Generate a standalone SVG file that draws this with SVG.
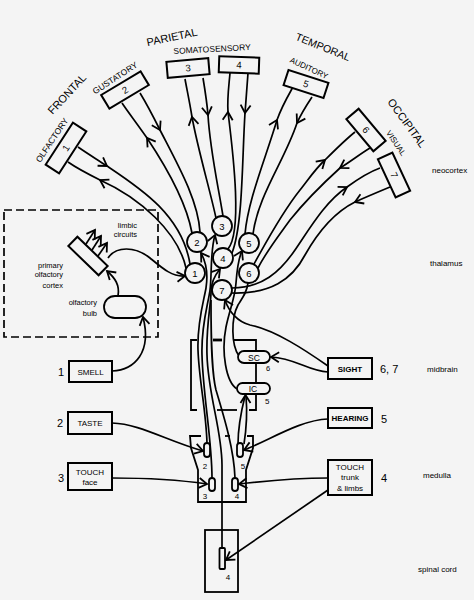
<svg xmlns="http://www.w3.org/2000/svg" width="474" height="600" viewBox="0 0 474 600">
<defs>
<marker id="ar" markerUnits="userSpaceOnUse" markerWidth="18" markerHeight="18" viewBox="-9 -9 18 18" refX="0" refY="0" orient="auto" overflow="visible">
<path d="M-8,-5 L0,0 L-8,5" fill="none" stroke="#000" stroke-width="1.8"/>
</marker>
</defs>
<style>
.l{fill:none;stroke:#000;stroke-width:1.7}
.a{fill:none;stroke:none;marker-end:url(#ar)}
.bx{fill:#f4f4f4;stroke:#000;stroke-width:2}
.nd{fill:#f4f4f4;stroke:#000;stroke-width:1.8}
.o{fill:none;stroke:#000;stroke-width:1.8}
.t{font-family:"Liberation Sans",Arial,sans-serif;fill:#000}
.s8{font-size:8px}
.c{text-anchor:middle}
.e{text-anchor:end}
</style>
<rect width="474" height="600" fill="#f4f4f4"/>

<!-- region labels -->
<g class="t c">
<text transform="translate(67,94) rotate(-47)" font-size="11" dy="0.35em">FRONTAL</text>
<text transform="translate(172,37) rotate(-12)" font-size="11" dy="0.35em">PARIETAL</text>
<text transform="translate(323,47) rotate(22)" font-size="10.5" dy="0.35em">TEMPORAL</text>
<text transform="translate(407,123) rotate(54)" font-size="11" dy="0.35em">OCCIPITAL</text>
<text transform="translate(52,140) rotate(-56)" font-size="8.5" dy="0.35em">OLFACTORY</text>
<text transform="translate(115,78) rotate(-33)" font-size="8.5" dy="0.35em">GUSTATORY</text>
<text transform="translate(212,49) rotate(-3)" font-size="8.5" dy="0.35em">SOMATOSENSORY</text>
<text transform="translate(309,68) rotate(25)" font-size="8" dy="0.35em">AUDITORY</text>
<text transform="translate(396,143) rotate(56)" font-size="8" dy="0.35em">VISUAL</text>
</g>

<!-- level labels -->
<g class="t s8">
<text x="432" y="173">neocortex</text>
<text x="430" y="266">thalamus</text>
<text x="427" y="372">midbrain</text>
<text x="423" y="478">medulla</text>
<text x="418" y="572">spinal cord</text>
</g>

<!-- olfactory dashed region -->
<g id="olfactory-region">
<rect x="4" y="210" width="154" height="127" fill="none" stroke="#000" stroke-width="1.7" stroke-dasharray="8,4"/>
<g class="t e" font-size="7.5">
<text x="137" y="228">limbic</text>
<text x="137" y="237">circuits</text>
<text x="63" y="268">primary</text>
<text x="63" y="277">olfactory</text>
<text x="63" y="288">cortex</text>
<text x="97" y="305">olfactory</text>
<text x="97" y="316">bulb</text>
</g>
</g>

<g id="connectors">
<!-- cortex <-> thalamus pairs -->
<path class="l" d="M78,147 C88,154 98,160 107,166 C140,188 182,215 190,264"/>
<path class="a" d="M102,162.7 L107,166"/>
<path class="l" d="M68,162 C78,169 90,175 100,180 C140,198 178,232 186,268"/>
<path class="a" d="M105,182.8 L100,180"/>

<path class="l" d="M192,233 C186,200 165,165 147,138 C138,125 128,112 122,103"/>
<path class="a" d="M150,142.2 L147,138"/>
<path class="l" d="M140,93 C148,106 154,118 160,130 C178,165 198,200 200,232"/>
<path class="a" d="M157.3,125 L160,130"/>

<path class="l" d="M216,218 C210,190 198,150 192,117 C190,104 187,90 185,79"/>
<path class="a" d="M193,122 L192,117"/>
<path class="l" d="M203,78 C205,90 207,103 208,115 C210,150 218,185 223,216"/>
<path class="a" d="M207.3,110 L208,115"/>

<path class="l" d="M228,249 C242,232 234,160 228,112 C227,98 229,85 230,73"/>
<path class="a" d="M227.8,117 L228,112"/>
<path class="l" d="M248,73 C247,88 246,100 245,113 C242,160 243,225 232,253"/>
<path class="a" d="M245.4,108 L245,113"/>

<path class="l" d="M245,234 C248,200 265,160 277,120 C282,106 288,96 293,87"/>
<path class="a" d="M274.8,124.5 L277,120"/>
<path class="l" d="M312,97 C306,106 301,114 297,123 C285,160 258,195 253,234"/>
<path class="a" d="M299.5,118.7 L297,123"/>

<path class="l" d="M254,264 C262,250 280,215 300,190 C308,180 316,168 325,160 C335,150 345,140 355,132"/>
<path class="a" d="M320.5,164 L325,160"/>
<path class="l" d="M370,148 C360,154 350,162 340,168 C318,188 302,205 290,220 C277,238 266,252 258,268"/>
<path class="a" d="M345,165 L340,168"/>

<path class="l" d="M232,288 C262,288 280,272 295,250 C310,228 325,202 347,187 C358,179 369,172 380,168"/>
<path class="a" d="M342,190 L347,187"/>
<path class="l" d="M390,187 C378,192 366,197 355,202 C335,212 318,232 305,255 C292,280 270,294 232,293"/>
<path class="a" d="M360,199.9 L355,202"/>

<!-- olfactory -->
<path class="l" d="M112,371 C135,370 152,352 143,317"/>
<path class="a" d="M144,322 L143,317"/>
<path class="l" d="M118,296 C120,285 115,278 107,271"/>
<path class="a" d="M111,274.5 L107,271"/>
<path class="l" d="M108,258 C116,246 135,246 150,258 C162,268 172,277 185,276"/>
<path class="a" d="M180,276.5 L185,276"/>
<path class="l" d="M86,244 L95,230"/>
<path class="a" d="M94,231.5 L95,230"/>
<path class="l" d="M92,250 L101,236"/>
<path class="a" d="M100,237.5 L101,236"/>
<path class="l" d="M98,256 L107,243"/>
<path class="a" d="M106,244.5 L107,243"/>

<!-- ascending brainstem tracts -->
<path class="l" d="M207,443 C206,410 199,380 198,350 C197,322 204,300 206,288 C208,275 206,262 201,253"/>
<path class="a" d="M203,256 L201,253"/>
<path class="l" d="M212,478 C212,440 203,395 202,355 C201,325 208,305 210,290 C212,275 210,252 215,235"/>
<path class="a" d="M214,238 L215,235"/>
<path class="l" d="M222,548 L222,465 C222,430 208,395 207,355 C206,325 211,305 211,292 C211,282 215,275 220,269"/>
<path class="a" d="M218,271.5 L220,269"/>
<path class="l" d="M235,478 C234,450 225,420 216,390 C211,370 211,330 211,300"/>
<path class="l" d="M237,389 C226,382 221,352 226,327 C230,308 235,298 236,283 C237,270 238,259 242,251"/>
<path class="a" d="M240.5,254 L242,251"/>
<path class="l" d="M239,356 C231,345 231,318 238,305 C243,297 247,292 248,283"/>
<path class="l" d="M238,444 C238,425 242,408 245,396"/>
<path class="l" d="M244,444 C247,425 247,408 246,396"/>
<path class="a" d="M245.5,400 L245.5,395"/>

<!-- sensory inputs -->
<path class="l" d="M328,366 C305,350 275,330 250,325 C238,322 229,312 225,300"/>
<path class="a" d="M227,304 L225,300"/>
<path class="l" d="M328,372 C308,371 295,358 271,357"/>
<path class="a" d="M276,357.2 L271,357"/>
<path class="l" d="M328,419 C300,420 270,440 244,450"/>
<path class="a" d="M249,448 L244,450"/>
<path class="l" d="M328,478 C300,478 265,481 239,484"/>
<path class="a" d="M244,483.5 L239,484"/>
<path class="l" d="M328,490 L226,560"/>
<path class="a" d="M230.1,557.2 L226,560"/>
<path class="l" d="M112,423 C140,424 165,440 203,451"/>
<path class="a" d="M198.2,449.6 L203,451"/>
<path class="l" d="M112,478 C150,478 180,480 207,484"/>
<path class="a" d="M202,483.3 L207,484"/>
</g>

<!-- brainstem outlines -->
<g id="midbrain">
<path class="o" d="M197,340 L191,340 L191,410 L197,410"/>
<path d="M213,340 L222,340" stroke="#000" stroke-width="2.8"/>
<path class="o" d="M234,340 L256,340 L256,351"/>
<path class="o" d="M256,363 L256,383"/>
<path class="o" d="M256,394 L256,410 L249,410"/>
<path class="o" d="M237,410 L217,410"/>
</g>
<g id="SC"><rect x="238" y="351" width="32" height="12" rx="6" class="nd"/><text class="t c" x="254" y="360.5" font-size="8.5">SC</text><text class="t" x="266" y="371" font-size="7.5">6</text></g>
<g id="IC"><rect x="237" y="383" width="33" height="11" rx="5.5" class="nd"/><text class="t c" x="253" y="391.5" font-size="8.5">IC</text><text class="t" x="265" y="404" font-size="8">5</text></g>

<g id="medulla">
<path class="o" d="M201,436 L190,436 L191,448 L198,470 L198,502 L246,502 L246,470 L253,448 L253,436 L247,436"/>
<path class="o" d="M225,436 L230,436"/>
</g>
<g id="med2"><rect x="204" y="443" width="6" height="14" rx="3" class="nd"/><text class="t c" x="205" y="469" font-size="8">2</text></g>
<g id="med5"><rect x="237" y="443" width="6" height="14" rx="3" class="nd"/><text class="t c" x="243" y="469" font-size="8">5</text></g>
<g id="med3"><rect x="209" y="478" width="6" height="13" rx="3" class="nd"/><text class="t c" x="205" y="499" font-size="8">3</text></g>
<g id="med4"><rect x="232" y="478" width="6" height="13" rx="3" class="nd"/><text class="t c" x="237" y="499" font-size="8">4</text></g>

<g id="spinal">
<rect x="205" y="530" width="33" height="62" class="o"/>
<rect x="219.5" y="548" width="5.5" height="21" rx="1" class="nd"/>
<text class="t c" x="228" y="580" font-size="8">4</text>
</g>

<!-- olfactory structures -->
<g id="olf-cortex" transform="translate(88,256) rotate(44)"><rect x="-21" y="-6.5" width="42" height="13" class="bx"/></g>
<g id="olf-bulb"><rect x="104" y="296" width="42" height="22" rx="11" class="nd"/></g>

<!-- cortex boxes -->
<g id="cortex1" transform="translate(66,148) rotate(-57)"><rect x="-25" y="-8" width="50" height="16" class="bx"/><text class="t c" dy="3.3" font-size="9.5">1</text></g>
<g id="cortex2" transform="translate(125,90) rotate(-31)"><rect x="-23" y="-8" width="46" height="16" class="bx"/><text class="t c" dy="3.3" font-size="9.5">2</text></g>
<g id="cortex3" transform="translate(188,68) rotate(-5)"><rect x="-21" y="-8" width="42" height="16" class="bx"/><text class="t c" dy="3.3" font-size="9.5">3</text></g>
<g id="cortex4" transform="translate(239,65) rotate(2)"><rect x="-20" y="-8" width="40" height="16" class="bx"/><text class="t c" dy="3.3" font-size="9.5">4</text></g>
<g id="cortex5" transform="translate(306,84) rotate(18)"><rect x="-21" y="-8" width="42" height="16" class="bx"/><text class="t c" dy="3.3" font-size="9.5">5</text></g>
<g id="cortex6" transform="translate(366,130) rotate(50)"><rect x="-21" y="-8" width="42" height="16" class="bx"/><text class="t c" dy="3.3" font-size="9.5">6</text></g>
<g id="cortex7" transform="translate(394,175) rotate(65)"><rect x="-21" y="-8" width="42" height="16" class="bx"/><text class="t c" dy="3.3" font-size="9.5">7</text></g>

<!-- thalamic nuclei -->
<g id="th1"><circle cx="195" cy="273" r="10" class="nd"/><text class="t c" x="195" y="276.5" font-size="9.5">1</text></g>
<g id="th2"><circle cx="197" cy="242" r="10" class="nd"/><text class="t c" x="197" y="245.5" font-size="9.5">2</text></g>
<g id="th3"><circle cx="222" cy="226" r="10" class="nd"/><text class="t c" x="222" y="229.5" font-size="9.5">3</text></g>
<g id="th4"><circle cx="223" cy="258" r="10" class="nd"/><text class="t c" x="223" y="261.5" font-size="9.5">4</text></g>
<g id="th5"><circle cx="249" cy="243" r="10" class="nd"/><text class="t c" x="249" y="246.5" font-size="9.5">5</text></g>
<g id="th6"><circle cx="249" cy="273" r="10" class="nd"/><text class="t c" x="249" y="276.5" font-size="9.5">6</text></g>
<g id="th7"><circle cx="222" cy="290" r="10" class="nd"/><text class="t c" x="222" y="293.5" font-size="9.5">7</text></g>

<!-- sensory boxes -->
<g id="smell"><rect x="69" y="361" width="43" height="21" class="bx"/><text class="t c s8" x="90.5" y="375">SMELL</text><text class="t e" x="64" y="376" font-size="11">1</text></g>
<g id="taste"><rect x="68" y="412" width="44" height="22" class="bx"/><text class="t c s8" x="90" y="426">TASTE</text><text class="t e" x="63" y="427" font-size="11">2</text></g>
<g id="touch-face"><rect x="68" y="463" width="44" height="27" class="bx"/><text class="t c s8" x="90" y="475">TOUCH</text><text class="t c s8" x="90" y="485">face</text><text class="t e" x="64" y="482" font-size="11">3</text></g>
<g id="sight"><rect x="328" y="358" width="44" height="21" class="bx"/><text class="t c s8" x="350" y="371.5" font-weight="bold">SIGHT</text><text class="t" x="380" y="373" font-size="11">6, 7</text></g>
<g id="hearing"><rect x="328" y="408" width="44" height="20" class="bx"/><text class="t c s8" x="350" y="421" font-weight="bold">HEARING</text><text class="t" x="381" y="423" font-size="11">5</text></g>
<g id="touch-trunk"><rect x="328" y="460" width="44" height="35" class="bx"/><text class="t c s8" x="350" y="470">TOUCH</text><text class="t c s8" x="350" y="480">trunk</text><text class="t c s8" x="350" y="490.5">&amp; limbs</text><text class="t" x="381" y="482" font-size="11">4</text></g>
</svg>
